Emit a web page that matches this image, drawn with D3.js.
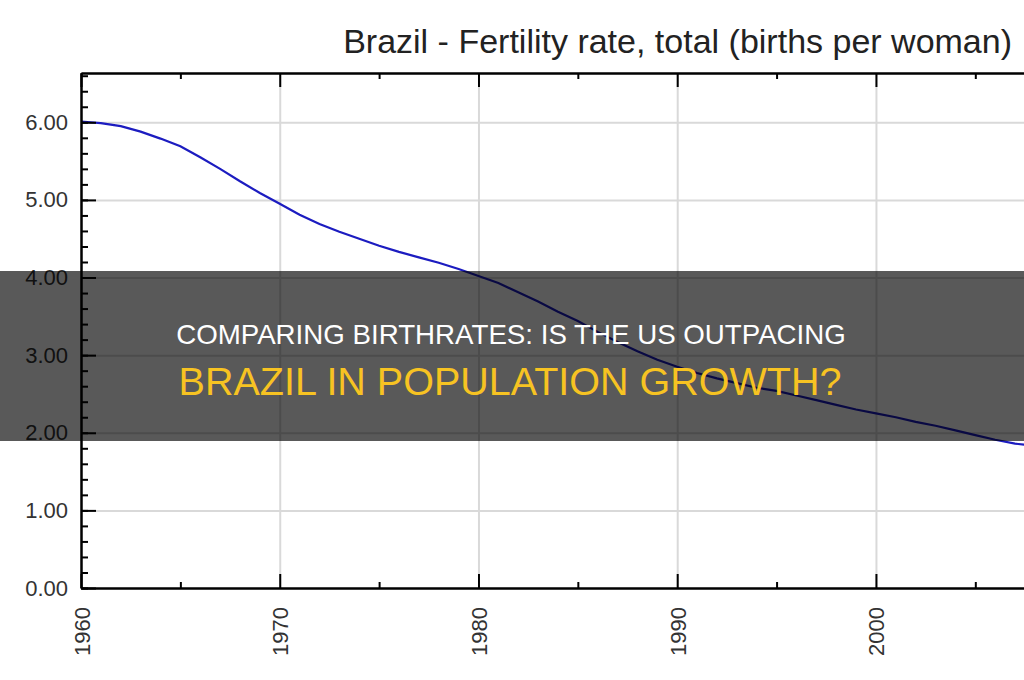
<!DOCTYPE html>
<html>
<head>
<meta charset="utf-8">
<script src="https://cdn.jsdelivr.net/npm/d3@7"></script>
<style>
  html, body { margin: 0; padding: 0; background: #fff; }
  svg { display: block; font-family: "Liberation Sans", Arial, sans-serif; }
</style>
</head>
<body>
<div id="chart"></div>
<script>
// Brazil fertility rate
const years = d3.range(1960, 2009);
const fertility = [
  6.01, 5.99, 5.95, 5.88, 5.79, 5.69, 5.55, 5.40, 5.24, 5.09,
  4.95, 4.81, 4.69, 4.59, 4.50, 4.41, 4.33, 4.26, 4.19, 4.11,
  4.02, 3.93, 3.81, 3.69, 3.56, 3.44, 3.30, 3.17, 3.05, 2.94,
  2.85, 2.77, 2.70, 2.64, 2.58, 2.54, 2.48, 2.42, 2.36, 2.30,
  2.25, 2.20, 2.14, 2.09, 2.03, 1.97, 1.91, 1.86, 1.83
];
const yMajor = [0, 1, 2, 3, 4, 5, 6];
const xMajor = [1960, 1970, 1980, 1990, 2000];
const xMinor = [1965, 1975, 1985, 1995, 2005];
const chartTitle = "Brazil - Fertility rate, total (births per woman)";
const bannerLine1 = "COMPARING BIRTHRATES: IS THE US OUTPACING";
const bannerLine2 = "BRAZIL IN POPULATION GROWTH?";

const width = 1024, height = 680;
const plotLeft = 81, plotTop = 73, plotBottom = 588, plotRight = 1024;

const svg = d3.select("#chart").append("svg")
  .attr("width", width)
  .attr("height", height);

const x = d3.scaleLinear().domain([1960, 2007.45]).range([plotLeft, plotRight]);
const y = d3.scaleLinear().domain([0, 6.635]).range([plotBottom, plotTop]);

svg.append("defs").append("clipPath").attr("id", "plot")
  .append("rect")
  .attr("x", plotLeft).attr("y", plotTop)
  .attr("width", plotRight - plotLeft).attr("height", plotBottom - plotTop);

// gridlines
svg.append("g")
  .attr("transform", `translate(${plotLeft},0)`)
  .call(d3.axisLeft(y).tickValues(yMajor.slice(1)).tickSize(-(plotRight - plotLeft)).tickFormat(""))
  .call(g => g.select(".domain").remove())
  .call(g => g.selectAll("line").attr("stroke", "#d9d9d9").attr("stroke-width", 2));

svg.append("g")
  .attr("transform", `translate(0,${plotBottom})`)
  .call(d3.axisBottom(x).tickValues(xMajor.slice(1)).tickSize(-(plotBottom - plotTop)).tickFormat(""))
  .call(g => g.select(".domain").remove())
  .call(g => g.selectAll("line").attr("stroke", "#d9d9d9").attr("stroke-width", 2));

// the series
const line = d3.line()
  .x((d, i) => x(years[i]))
  .y(d => y(d));

svg.append("path")
  .datum(fertility)
  .attr("clip-path", "url(#plot)")
  .attr("fill", "none")
  .attr("stroke", "#1c1cc0")
  .attr("stroke-width", 2.2)
  .attr("d", line);

// axes
const axisStyle = g => {
  g.select(".domain").attr("stroke", "#000").attr("stroke-width", 2);
  g.selectAll(".tick line").attr("stroke", "#000").attr("stroke-width", 2);
};

svg.append("g")
  .attr("transform", `translate(${plotLeft},0)`)
  .call(d3.axisLeft(y).tickValues(d3.range(0, 6.7, 0.2)).tickSizeInner(-7).tickSizeOuter(0).tickFormat(""))
  .call(axisStyle);

svg.append("g")
  .attr("transform", `translate(${plotLeft},0)`)
  .call(d3.axisLeft(y).tickValues(yMajor).tickSizeInner(-15).tickSizeOuter(0).tickPadding(13).tickFormat(d3.format(".2f")))
  .call(axisStyle)
  .call(g => g.selectAll("text")
    .attr("fill", "#333")
    .attr("font-size", 22)
    .attr("font-family", "Liberation Sans, Arial, sans-serif"));

svg.append("g")
  .attr("transform", `translate(0,${plotBottom})`)
  .call(d3.axisBottom(x).tickValues(xMinor).tickSizeInner(-6).tickSizeOuter(0).tickFormat(""))
  .call(axisStyle);

svg.append("g")
  .attr("transform", `translate(0,${plotBottom})`)
  .call(d3.axisBottom(x).tickValues(xMajor).tickSizeInner(-14).tickSizeOuter(0).tickFormat(d3.format("d")))
  .call(axisStyle)
  .call(g => g.selectAll("text")
    .attr("fill", "#333")
    .attr("font-size", 22)
    .attr("font-family", "Liberation Sans, Arial, sans-serif")
    .attr("text-anchor", "end")
    .attr("dy", null)
    .attr("y", 0)
    .attr("transform", "translate(8,19) rotate(-90)"));

svg.append("g")
  .attr("transform", `translate(0,${plotTop})`)
  .call(d3.axisTop(x).tickValues(xMinor).tickSizeInner(-6).tickSizeOuter(0).tickFormat(""))
  .call(axisStyle);

svg.append("g")
  .attr("transform", `translate(0,${plotTop})`)
  .call(d3.axisTop(x).tickValues(xMajor).tickSizeInner(-14).tickSizeOuter(0).tickFormat(""))
  .call(axisStyle);

// title
svg.append("text")
  .attr("x", 1012)
  .attr("y", 53)
  .attr("text-anchor", "end")
  .attr("font-size", 34)
  .attr("fill", "#222")
  .text(chartTitle);

// banner over the chart
svg.append("rect")
  .attr("x", 0).attr("y", 271)
  .attr("width", width).attr("height", 170)
  .attr("fill", "rgba(0,0,0,0.65)");

svg.append("text")
  .attr("x", 511).attr("y", 344)
  .attr("text-anchor", "middle")
  .attr("font-size", 27.7)
  .attr("fill", "#fff")
  .text(bannerLine1);

svg.append("text")
  .attr("x", 510).attr("y", 395)
  .attr("text-anchor", "middle")
  .attr("font-size", 39.5)
  .attr("fill", "#f7c322")
  .text(bannerLine2);
</script>
</body>
</html>
